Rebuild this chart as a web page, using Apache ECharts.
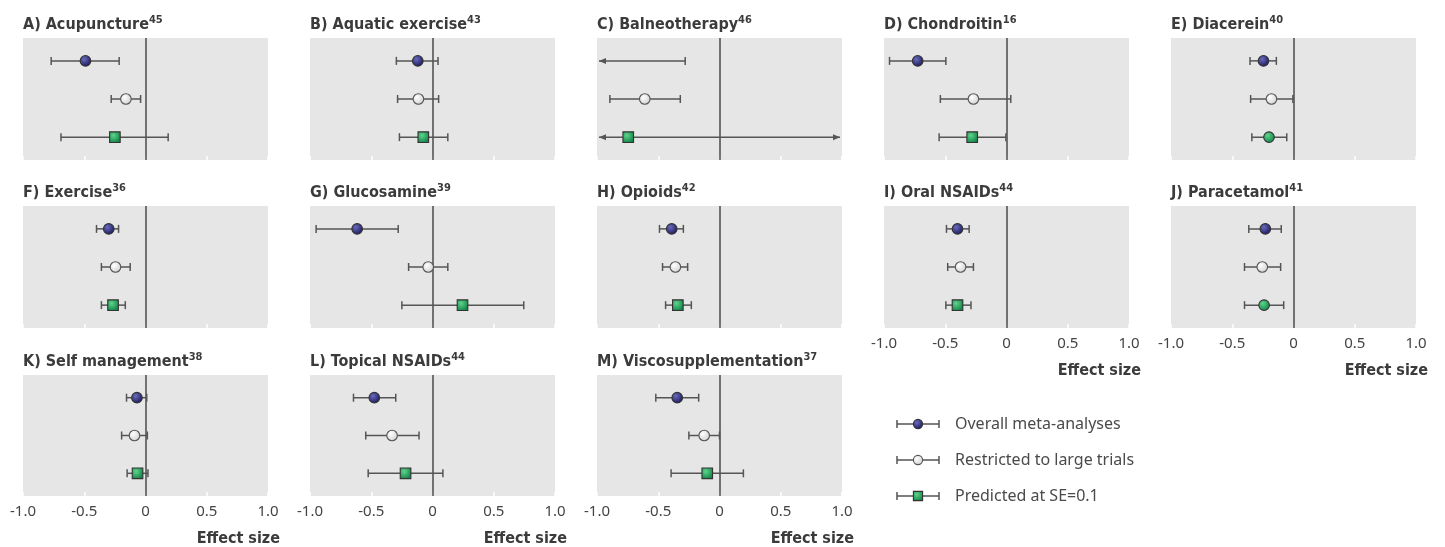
<!DOCTYPE html>
<html>
<head>
<meta charset="utf-8">
<script src="https://cdn.jsdelivr.net/npm/echarts@6/dist/echarts.min.js"></script>
<style>
html,body{margin:0;padding:0;background:#fff;}
#c{width:1445px;height:547px;}
</style>
</head>
<body>
<div id="c"></div>
<script>
// ---------- DATA ----------
const panelTitles = ['A) Acupuncture','B) Aquatic exercise','C) Balneotherapy','D) Chondroitin','E) Diacerein',
  'F) Exercise','G) Glucosamine','H) Opioids','I) Oral NSAIDs','J) Paracetamol',
  'K) Self management','L) Topical NSAIDs','M) Viscosupplementation'];
const panelRefs = ['45','43','46','16','40','36','39','42','44','41','38','44','37'];
// [lower CI, estimate, upper CI]
const overallMeta = [
  [-0.77,-0.49,-0.215],[-0.295,-0.12,0.045],[-1.6,-1.15,-0.28],[-0.955,-0.725,-0.495],[-0.355,-0.245,-0.14],
  [-0.4,-0.3,-0.22],[-0.95,-0.615,-0.28],[-0.49,-0.39,-0.295],[-0.49,-0.4,-0.305],[-0.365,-0.23,-0.1],
  [-0.155,-0.07,0.01],[-0.645,-0.475,-0.3],[-0.52,-0.345,-0.17]];
const largeTrials = [
  [-0.28,-0.16,-0.04],[-0.285,-0.115,0.05],[-0.895,-0.61,-0.32],[-0.54,-0.27,0.035],[-0.35,-0.18,-0.005],
  [-0.36,-0.245,-0.125],[-0.195,-0.035,0.125],[-0.465,-0.36,-0.26],[-0.48,-0.375,-0.27],[-0.4,-0.255,-0.105],
  [-0.195,-0.09,0.015],[-0.545,-0.33,-0.11],[-0.25,-0.125,0.0]];
const predictedSE01 = [
  [-0.69,-0.25,0.185],[-0.27,-0.075,0.125],[-2.2,-0.745,1.3],[-0.55,-0.28,-0.005],[-0.34,-0.2,-0.055],
  [-0.36,-0.265,-0.165],[-0.25,0.245,0.745],[-0.44,-0.34,-0.23],[-0.495,-0.4,-0.29],[-0.4,-0.24,-0.08],
  [-0.15,-0.065,0.02],[-0.525,-0.22,0.085],[-0.395,-0.1,0.195]];
const predictedMarker = ['rect','rect','rect','rect','circle','rect','rect','rect','rect','circle','rect','rect','rect'];
const seriesNames = ['Overall meta-analyses','Restricted to large trials','Predicted at SE=0.1'];
const tickLabels = ['-1.0','-0.5','0','0.5','1.0'];
const axisTitle = 'Effect size';

// ---------- STYLE / LAYOUT ----------
const LINE = '#555555';
const TXT = '#3b3b3b';
const TITLE_FONT = 'Liberation Sans Narrow, DejaVu Sans Condensed, sans-serif';
const colLeft = [23, 310, 597, 884, 1171];
const rowTop = [38, 206, 375];
const GW = 245, GH = 122;
const bottomPanels = [8, 9, 10, 11, 12];

function fillFor(kind) {
  if (kind === 0) return new echarts.graphic.RadialGradient(0.38, 0.35, 0.65,
    [{offset:0,color:'#6a6abd'},{offset:1,color:'#1b1b5e'}]);
  if (kind === 1) return new echarts.graphic.RadialGradient(0.38, 0.35, 0.65,
    [{offset:0,color:'#ffffff'},{offset:1,color:'#d2d2d2'}]);
  return new echarts.graphic.RadialGradient(0.38, 0.35, 0.65,
    [{offset:0,color:'#5fd48a'},{offset:1,color:'#12864a'}]);
}
function markerEl(shape, kind, cx, cy, r) {
  const style = {fill: fillFor(kind), stroke: kind === 1 ? '#555' : '#333', lineWidth: 1.1};
  if (shape === 'rect') return {type:'rect', shape:{x:cx-r, y:cy-r, width:2*r, height:2*r}, style};
  return {type:'circle', shape:{cx, cy, r}, style};
}

function makeRender(panel) {
  return function (params, api) {
    const lo = api.value(0), est = api.value(1), hi = api.value(2), row = api.value(3), kind = api.value(4);
    const cs = params.coordSys;
    const xmin = cs.x, xmax = cs.x + cs.width;
    const y = api.coord([0, row])[1];
    const x1 = api.coord([lo, row])[0], x2 = api.coord([hi, row])[0], xe = api.coord([est, row])[0];
    const loOut = x1 < xmin, hiOut = x2 > xmax;
    const a1 = loOut ? xmin + 2 : x1, a2 = hiOut ? xmax - 2 : x2;
    const ch = [];
    ch.push({type:'line', shape:{x1:a1, y1:y, x2:a2, y2:y}, style:{stroke:LINE, lineWidth:1.5}});
    if (loOut) ch.push({type:'polygon', shape:{points:[[a1,y],[a1+7,y-3],[a1+7,y+3]]}, style:{fill:LINE}});
    else ch.push({type:'line', shape:{x1:a1, y1:y-4, x2:a1, y2:y+4}, style:{stroke:LINE, lineWidth:1.5}});
    if (hiOut) ch.push({type:'polygon', shape:{points:[[a2,y],[a2-7,y-3],[a2-7,y+3]]}, style:{fill:LINE}});
    else ch.push({type:'line', shape:{x1:a2, y1:y-4, x2:a2, y2:y+4}, style:{stroke:LINE, lineWidth:1.5}});
    if (xe >= xmin && xe <= xmax) {
      const shape = kind === 2 ? predictedMarker[panel] : 'circle';
      ch.push(markerEl(shape, kind, xe, y, 5.3));
    }
    return {type:'group', children: ch};
  };
}

const grids = [], xAxes = [], yAxes = [], series = [], titles = [];
panelTitles.forEach((t, i) => {
  const col = i % 5, row = Math.floor(i / 5);
  const left = colLeft[col], top = rowTop[row];
  grids.push({left, top, width: GW, height: GH, show: true, backgroundColor: '#e6e6e6', borderWidth: 0});
  const isBottom = bottomPanels.includes(i);
  xAxes.push({
    gridIndex: i, type: 'value', min: -1, max: 1, interval: 0.5,
    axisLine: {show: false}, splitLine: {show: false},
    axisTick: {show: true, inside: true, length: 4, lineStyle: {color: '#ffffff', width: 1.5}},
    axisLabel: {show: isBottom, fontSize: 15, color: '#444', fontFamily: 'Noto Sans', margin: 8,
      formatter: (v, idx) => tickLabels[idx]},
    name: isBottom ? axisTitle : '', nameLocation: 'end', nameGap: 0,
    nameTextStyle: {align: 'right', verticalAlign: 'top', fontSize: 16, fontWeight: 'bold', color: TXT,
      fontFamily: TITLE_FONT, padding: [35, -12, 0, 0]}
  });
  yAxes.push({gridIndex: i, type: 'value', min: 0.4, max: 3.6, inverse: true, show: false});
  titles.push({
    left, top: top - 23, padding: 0,
    text: '{t|' + t + '}{s|' + panelRefs[i] + '}',
    textStyle: {rich: {
      t: {fontSize: 16, fontWeight: 'bold', color: TXT, fontFamily: TITLE_FONT, lineHeight: 20},
      s: {fontSize: 11, fontWeight: 'bold', color: TXT, fontFamily: TITLE_FONT, verticalAlign: 'top', lineHeight: 14}
    }}
  });
  const data = [
    [...overallMeta[i], 1, 0],
    [...largeTrials[i], 2, 1],
    [...predictedSE01[i], 3, 2]
  ];
  series.push({
    type: 'custom', xAxisIndex: i, yAxisIndex: i, data,
    encode: {x: [0, 1, 2], y: 3},
    renderItem: makeRender(i), z: 3, silent: true,
    markLine: {silent: true, symbol: 'none', z: 2, label: {show: false},
      lineStyle: {color: '#4a4a4a', width: 1.5, type: 'solid'}, data: [{xAxis: 0}]}
  });
});

// legend (drawn as graphics)
const legendGraphics = [];
const legY = [424, 460, 496];
const legShapes = ['circle', 'circle', 'rect'];
seriesNames.forEach((n, k) => {
  const y = legY[k];
  legendGraphics.push({
    type: 'group', children: [
      {type:'line', shape:{x1:897, y1:y, x2:939, y2:y}, style:{stroke:LINE, lineWidth:1.5}},
      {type:'line', shape:{x1:897, y1:y-4, x2:897, y2:y+4}, style:{stroke:LINE, lineWidth:1.5}},
      {type:'line', shape:{x1:939, y1:y-4, x2:939, y2:y+4}, style:{stroke:LINE, lineWidth:1.5}},
      markerEl(legShapes[k], k, 918, y, 4.6),
      {type:'text', x: 955, y: y, style:{text: n, fill: '#4a4a4a', fontSize: 16, fontFamily: 'Noto Sans', verticalAlign: 'middle', align: 'left'}}
    ]
  });
});

const chart = echarts.init(document.getElementById('c'), null, {renderer: 'canvas'});
chart.setOption({
  animation: false,
  title: titles,
  grid: grids, xAxis: xAxes, yAxis: yAxes, series,
  graphic: legendGraphics
});
</script>
</body>
</html>
